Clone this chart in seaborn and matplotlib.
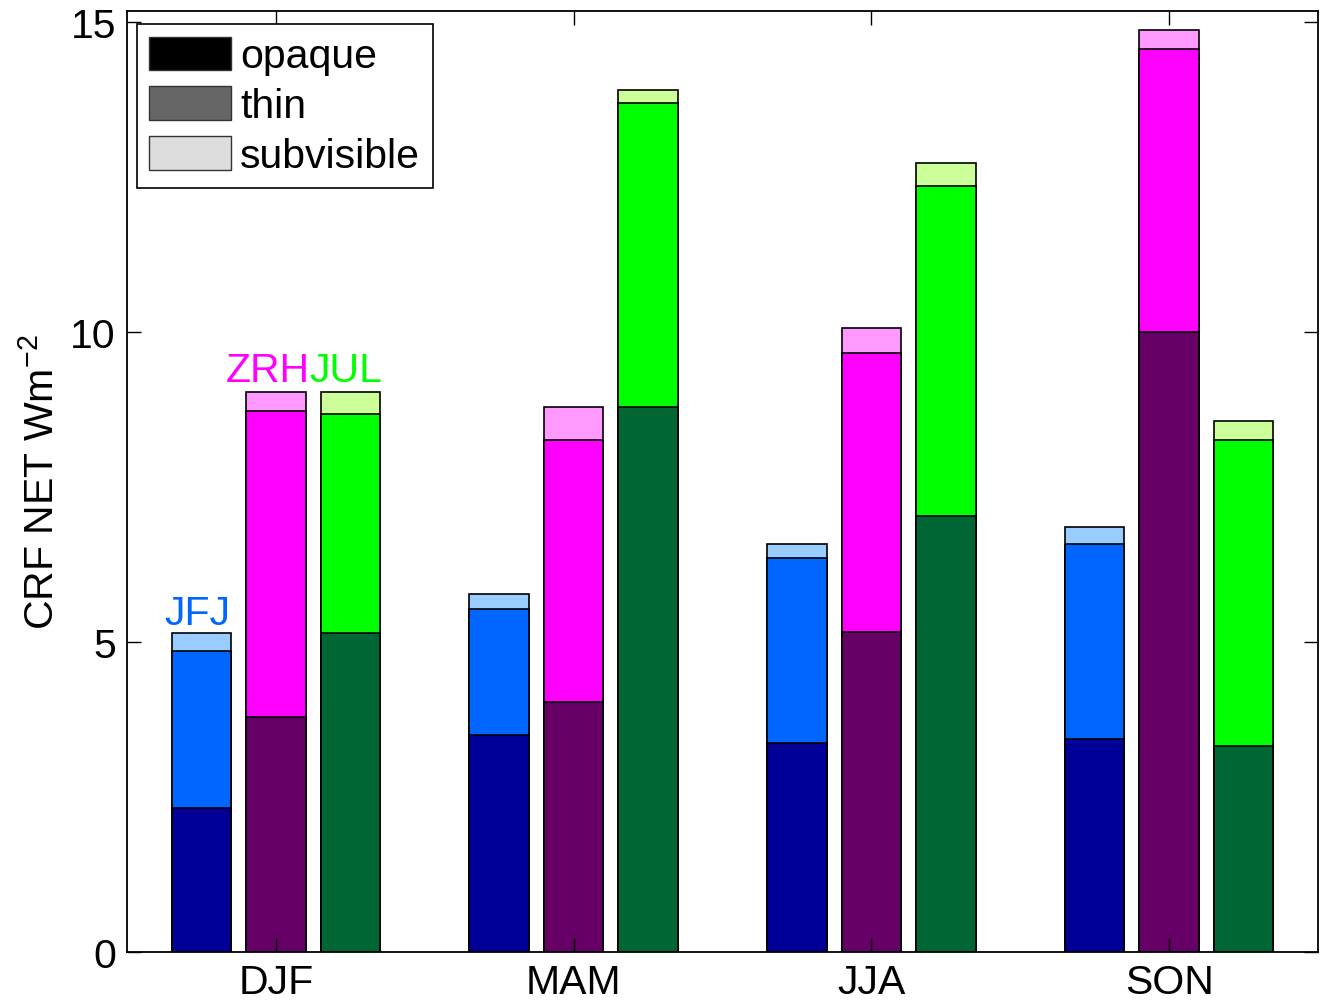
import matplotlib
matplotlib.use("Agg")
import matplotlib.pyplot as plt
import pandas as pd
import seaborn as sns
from matplotlib.patches import Patch

# values (W m^-2), per season for each station
seasons = ["DJF", "MAM", "JJA", "SON"]
stations = ["JFJ", "ZRH", "JUL"]

# cumulative tops: opaque, opaque+thin, opaque+thin+subvisible
jfj_opaque = [2.32, 3.50, 3.37, 3.43]
jfj_thin = [4.85, 5.54, 6.35, 6.59]
jfj_sub = [5.14, 5.78, 6.59, 6.85]

zrh_opaque = [3.79, 4.03, 5.17, 10.0]
zrh_thin = [8.72, 8.26, 9.67, 14.56]
zrh_sub = [9.04, 8.80, 10.07, 14.87]

jul_opaque = [5.14, 8.80, 7.04, 3.33]
jul_thin = [8.68, 13.69, 12.36, 8.26]
jul_sub = [9.04, 13.90, 12.73, 8.57]

pal_opaque = {"JFJ": "#000099", "ZRH": "#660066", "JUL": "#006633"}
pal_thin = {"JFJ": "#0066FF", "ZRH": "#FF00FF", "JUL": "#00FF00"}
pal_sub = {"JFJ": "#99CCFF", "ZRH": "#FF99FF", "JUL": "#CCFF99"}


def layer(a, b, c):
    rows = []
    for st, vals in zip(stations, [a, b, c]):
        for s, v in zip(seasons, vals):
            rows.append({"season": s, "station": st, "value": v})
    return pd.DataFrame(rows)


plt.rcParams["font.family"] = ["Liberation Sans", "DejaVu Sans"]
plt.rcParams["mathtext.fontset"] = "custom"
plt.rcParams["mathtext.rm"] = "Liberation Sans"
plt.rcParams["mathtext.it"] = "Liberation Sans"
FS = 29.5

fig = plt.figure(figsize=(13.22, 10.04), dpi=100)
ax = fig.add_axes([0.0961, 0.0508, 0.9009, 0.9372])

# draw the tallest stack first, then cover with the lower parts
for df, pal in [(layer(jfj_sub, zrh_sub, jul_sub), pal_sub),
                (layer(jfj_thin, zrh_thin, jul_thin), pal_thin),
                (layer(jfj_opaque, zrh_opaque, jul_opaque), pal_opaque)]:
    sns.barplot(data=df, x="season", y="value", hue="station",
                order=seasons, hue_order=stations, palette=pal,
                width=0.75, gap=0.2, errorbar=None, legend=False,
                edgecolor="black", linewidth=1.2, saturation=1, ax=ax)

ax.set_xlim(-0.5, 3.5)
ax.set_ylim(0, 15.18)
ax.set_yticks([0, 5, 10, 15])
ax.set_xlabel("")
ax.set_ylabel("CRF NET Wm$^{-2}$", fontsize=FS, labelpad=6)
ax.tick_params(direction="in", length=10, width=1, labelsize=FS,
               top=True, right=True, pad=8)
for sp in ax.spines.values():
    sp.set_linewidth(1.3)

# station names above the DJF bars
ax.text(-0.265, 5.29, "JFJ", color="#0066FF", fontsize=FS, ha="center", va="baseline")
ax.text(0.114, 9.21, "ZRH", color="#FF00FF", fontsize=FS, ha="right", va="baseline")
ax.text(0.114, 9.21, "JUL", color="#00FF00", fontsize=FS, ha="left", va="baseline")

handles = [Patch(facecolor="black", edgecolor="#333333", label="opaque"),
           Patch(facecolor="#666666", edgecolor="#333333", label="thin"),
           Patch(facecolor="#DDDDDD", edgecolor="#333333", label="subvisible")]
leg = ax.legend(handles=handles, loc="upper left", bbox_to_anchor=(0.0084, 0.986),
                borderaxespad=0, fontsize=FS, handlelength=2.0, handleheight=0.88,
                handletextpad=0.22, labelspacing=0.27, borderpad=0.3,
                fancybox=False, framealpha=1, edgecolor="black")
leg.get_frame().set_linewidth(1.2)

plt.savefig("out.png", dpi=100)
